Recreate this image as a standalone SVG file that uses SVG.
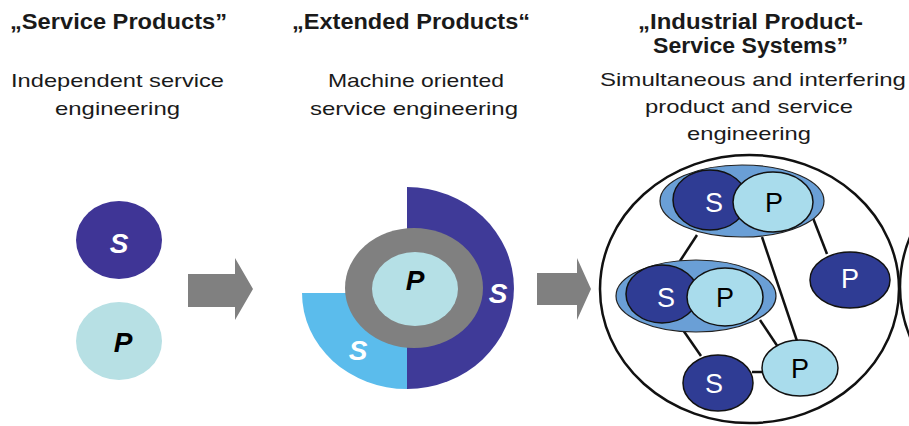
<svg xmlns="http://www.w3.org/2000/svg" width="909" height="426" viewBox="0 0 909 426">
<style>
.title{font-family:"Liberation Sans",Arial,sans-serif;font-weight:bold;font-size:22px;fill:#1a1a1a}
.sub{font-family:"Liberation Sans",Arial,sans-serif;font-size:19px;fill:#1a1a1a}
.lbl{font-family:"Liberation Sans",Arial,sans-serif;font-weight:bold;font-style:italic;font-size:28px;text-anchor:middle}
.rl{font-family:"Liberation Sans",Arial,sans-serif;font-size:27px;text-anchor:middle}
.dark{fill:#2f3c94;stroke:#111;stroke-width:1.5}
.light{fill:#a9dcec;stroke:#111;stroke-width:1.5}
.grp{fill:#6a9fd6;stroke:#222;stroke-width:1.2}
.arrow{fill:#808080}
.conn line{stroke:#111;stroke-width:2.5}
</style>

<g id="headings">
<text class="title" x="10" y="29" textLength="217" lengthAdjust="spacingAndGlyphs">„Service Products”</text>
<text class="sub" x="11" y="87" textLength="213" lengthAdjust="spacingAndGlyphs">Independent service</text>
<text class="sub" x="55" y="115" textLength="125" lengthAdjust="spacingAndGlyphs">engineering</text>

<text class="title" x="292" y="29" textLength="238" lengthAdjust="spacingAndGlyphs">„Extended Products“</text>
<text class="sub" x="328" y="87" textLength="176" lengthAdjust="spacingAndGlyphs">Machine oriented</text>
<text class="sub" x="310" y="115" textLength="208" lengthAdjust="spacingAndGlyphs">service engineering</text>

<text class="title" x="638" y="29" textLength="225" lengthAdjust="spacingAndGlyphs">„Industrial Product-</text>
<text class="title" x="653" y="53" textLength="195" lengthAdjust="spacingAndGlyphs">Service Systems”</text>
<text class="sub" x="600" y="86" textLength="306" lengthAdjust="spacingAndGlyphs">Simultaneous and interfering</text>
<text class="sub" x="645" y="113" textLength="208" lengthAdjust="spacingAndGlyphs">product and service</text>
<text class="sub" x="687" y="140" textLength="124" lengthAdjust="spacingAndGlyphs">engineering</text>
</g>

<g id="service-products">
<g id="sp-s">
<ellipse cx="119" cy="240" rx="43" ry="39" fill="#3f3596"/>
<text class="lbl" x="119" y="253" fill="#fff">S</text>
</g>
<g id="sp-p">
<ellipse cx="119" cy="341" rx="43" ry="39" fill="#b7e0e4"/>
<text class="lbl" x="123" y="352" fill="#000">P</text>
</g>
</g>

<g id="arrows">
<polygon class="arrow" points="188,274 235,274 235,258 253,289 235,320 235,307 188,307"/>
<polygon class="arrow" points="537,273 577,273 577,258 591,289 577,320 577,305 537,305"/>
</g>

<g id="extended-products">
<path d="M407,187 A107,101 0 0 1 407,389 Z" fill="#3f3a98"/>
<path d="M302,293 L407,293 L407,389 A105,96 0 0 1 302,293 Z" fill="#5bbcec"/>
<ellipse cx="414" cy="288" rx="69" ry="60" fill="#808080"/>
<ellipse cx="415" cy="289" rx="43" ry="37" fill="#b5e0e6"/>
<text class="lbl" x="415" y="290" fill="#000">P</text>
<text class="lbl" x="498" y="303" fill="#fff">S</text>
<text class="lbl" x="358" y="360" fill="#fff">S</text>
</g>

<g id="ipss">
<ellipse cx="749.5" cy="289" rx="149.5" ry="134" fill="#fff" stroke="#111" stroke-width="2.5"/>
<ellipse cx="1052" cy="287" rx="152" ry="140" fill="none" stroke="#111" stroke-width="2.5"/>

<g class="conn" id="connectors">
<line x1="697" y1="235" x2="680" y2="261"/>
<line x1="762" y1="237" x2="797" y2="341"/>
<line x1="813" y1="218" x2="827" y2="254"/>
<line x1="683" y1="330" x2="701" y2="356"/>
<line x1="760" y1="320" x2="778" y2="347"/>
<line x1="752" y1="372" x2="764" y2="372"/>
</g>

<g id="group-top">
<ellipse class="grp" cx="742" cy="201" rx="82" ry="36"/>
<ellipse class="dark" cx="710" cy="200" rx="37" ry="30"/>
<ellipse class="light" cx="773" cy="202" rx="40" ry="30"/>
<text class="rl" x="714" y="212" fill="#fff">S</text>
<text class="rl" x="774" y="212" fill="#000">P</text>
</g>

<g id="group-mid">
<ellipse class="grp" cx="696" cy="296" rx="80" ry="36"/>
<ellipse class="dark" cx="662" cy="294" rx="36" ry="29"/>
<ellipse class="light" cx="725" cy="297" rx="38" ry="29"/>
<text class="rl" x="666" y="307" fill="#fff">S</text>
<text class="rl" x="725" y="307" fill="#000">P</text>
</g>

<g id="p-right">
<ellipse class="dark" cx="850" cy="280" rx="40" ry="28"/>
<text class="rl" x="850" y="288" fill="#fff">P</text>
</g>

<g id="s-bottom">
<ellipse class="dark" cx="718" cy="383" rx="35" ry="28"/>
<text class="rl" x="714" y="393" fill="#fff">S</text>
</g>

<g id="p-bottom">
<ellipse class="light" cx="800" cy="368" rx="38" ry="28"/>
<text class="rl" x="800" y="378" fill="#000">P</text>
</g>
</g>
</svg>
